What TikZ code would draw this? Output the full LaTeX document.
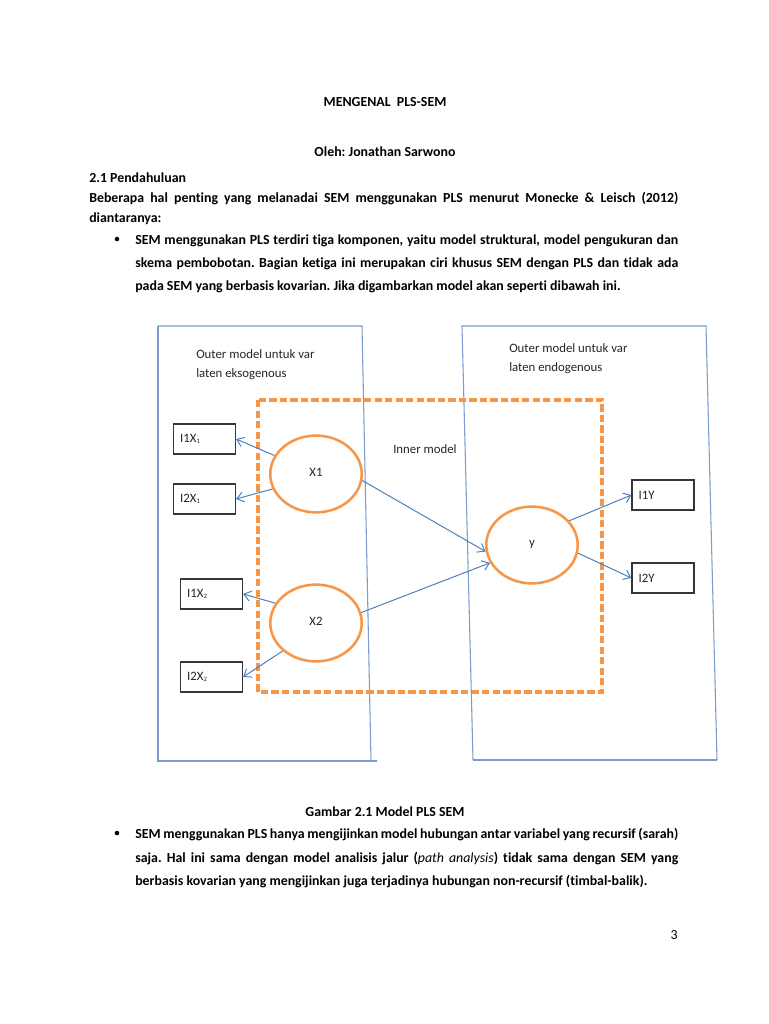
\documentclass[tikz,border=0pt]{standalone}
\usepackage{fontspec}
\setmainfont{Carlito}[RawFeature={-liga}]
\usetikzlibrary{arrows.meta,shapes.geometric}
\definecolor{panelblue}{RGB}{125,155,205}
\definecolor{arrowblue}{RGB}{79,129,189}
\definecolor{orangeline}{RGB}{247,150,70}
\definecolor{boxgray}{RGB}{55,55,55}
\definecolor{labelgray}{RGB}{38,38,38}
\newcommand{\jline}[1]{\makebox[407.25pt][s]{#1}}
\newcommand{\jlinewide}[1]{\makebox[441.75pt][s]{#1}}
\frenchspacing
\begin{document}
\begin{tikzpicture}[x=0.75pt,y=-0.75pt,
  body/.style={anchor=base west, inner sep=0pt, font=\fontsize{10.4pt}{12pt}\selectfont\bfseries},
  bodyc/.style={anchor=base, inner sep=0pt, font=\fontsize{10.4pt}{12pt}\selectfont\bfseries},
  bulletdot/.style={circle, fill=black, inner sep=0pt, minimum size=3.4pt},
  panel/.style={draw=panelblue, line width=0.8pt},
  innerbox/.style={draw=orangeline, line width=2.6pt, dash pattern=on 5.5pt off 2.4pt},
  latent/.style={ellipse, draw=orangeline, line width=1.9pt, minimum width=68.6pt, minimum height=57.6pt, inner sep=0pt, font=\fontsize{9.6pt}{11pt}\selectfont, text=labelgray},
  indicator/.style={draw=boxgray, line width=0.9pt, minimum height=22.5pt, text width=36.5pt, inner xsep=5pt, inner ysep=0pt, align=left, font=\fontsize{9.6pt}{11pt}\selectfont, text=labelgray},
  dlabel/.style={anchor=base west, inner sep=0pt, font=\fontsize{9.6pt}{11pt}\selectfont, text=labelgray},
  conn/.style={draw=arrowblue, line width=0.75pt, -{Straight Barb[length=5pt,width=7.5pt]}}
]
\useasboundingbox (0,0) rectangle (768,1024);
\fill[white] (0,0) rectangle (768,1024);

% ---------- header text ----------
\node[bodyc] (title) at (385,107) {MENGENAL\ \ PLS-SEM};
\node[bodyc] (author) at (385,156) {Oleh: Jonathan Sarwono};
\node[body] (sec) at (89,182) {2.1 Pendahuluan};
\node[body] (p1a) at (89,202) {\jlinewide{Beberapa hal penting yang melanadai SEM menggunakan PLS menurut Monecke \& Leisch (2012)}};
\node[body] (p1b) at (89,222) {diantaranya:};
\node[bulletdot] (b1) at (117,239) {};
\node[body] (b1a) at (135,244) {\jline{SEM menggunakan PLS terdiri tiga komponen, yaitu model struktural, model pengukuran dan}};
\node[body] (b1b) at (135,267) {\jline{skema pembobotan. Bagian ketiga ini merupakan ciri khusus SEM dengan PLS dan tidak ada}};
\node[body] (b1c) at (135,290) {pada SEM yang berbasis kovarian. Jika digambarkan model akan seperti dibawah ini.};

% ---------- panels ----------
\draw[panel] (158,326) -- (362,326) -- (371,761);
\draw[panel] (158,326) -- (158,761) -- (377,761);
\draw[panel] (473,760) -- (462,326) -- (706,326) -- (717,760);
\draw[panel] (473,760) -- (717,760);

% ---------- inner model box ----------
\draw[innerbox] (258,400) rectangle (602,692);

% ---------- labels ----------
\node[dlabel] (outL1) at (196,358) {Outer model untuk var};
\node[dlabel] (outL2) at (196,377) {laten eksogenous};
\node[dlabel] (outR1) at (509,352) {Outer model untuk var};
\node[dlabel] (outR2) at (509,371) {laten endogenous};
\node[dlabel] (inner) at (393,453) {Inner model};

% ---------- latent variables ----------
\node[latent] (X1) at (316,474) {\raisebox{2.5pt}{X1}};
\node[latent] (X2) at (316,623) {\raisebox{2.5pt}{X2}};
\node[latent] (Y) at (532,545) {\raisebox{2.5pt}{y}};

% ---------- indicators ----------
\node[indicator] (I1X1) at (204.5,439) {I1X{\scriptsize\textsubscript{1}}};
\node[indicator] (I2X1) at (204.5,499) {I2X{\scriptsize\textsubscript{1}}};
\node[indicator] (I1X2) at (211.5,594) {I1X{\scriptsize\textsubscript{2}}};
\node[indicator] (I2X2) at (211.5,677) {I2X{\scriptsize\textsubscript{2}}};
\node[indicator] (I1Y) at (663,495) {I1Y};
\node[indicator] (I2Y) at (663,578) {I2Y};

% ---------- connectors ----------
\draw[conn] (X1.156) -- (I1X1.east);
\draw[conn] (X1.199) -- (I2X1.east);
\draw[conn] (X2.154) -- (I1X2.east);
\draw[conn] (X2.220) -- (I2X2.east);
\draw[conn] (X1.352) -- (Y.188);
\draw[conn] (X2.13) -- (Y.203);
\draw[conn] (Y.33) -- (I1Y.west);
\draw[conn] (Y.350) -- (I2Y.west);

% ---------- lower text ----------
\node[bodyc] (caption) at (385,816) {Gambar 2.1 Model PLS SEM};
\node[bulletdot] (b2) at (117,833) {};
\node[body] (b2a) at (135,838) {\jline{SEM menggunakan PLS hanya mengijinkan model hubungan antar variabel yang recursif (sarah)}};
\node[body] (b2b) at (135,862) {\jline{saja. Hal ini sama dengan model analisis jalur (\textit{\mdseries path analysis}) tidak sama dengan SEM yang}};
\node[body] (b2c) at (135,885) {berbasis kovarian yang mengijinkan juga terjadinya hubungan non-recursif (timbal-balik).};
\node[anchor=base east, inner sep=0pt, font=\fontsize{10.4pt}{12pt}\selectfont] (pagenum) at (678,939) {3};
\end{tikzpicture}
\end{document}
